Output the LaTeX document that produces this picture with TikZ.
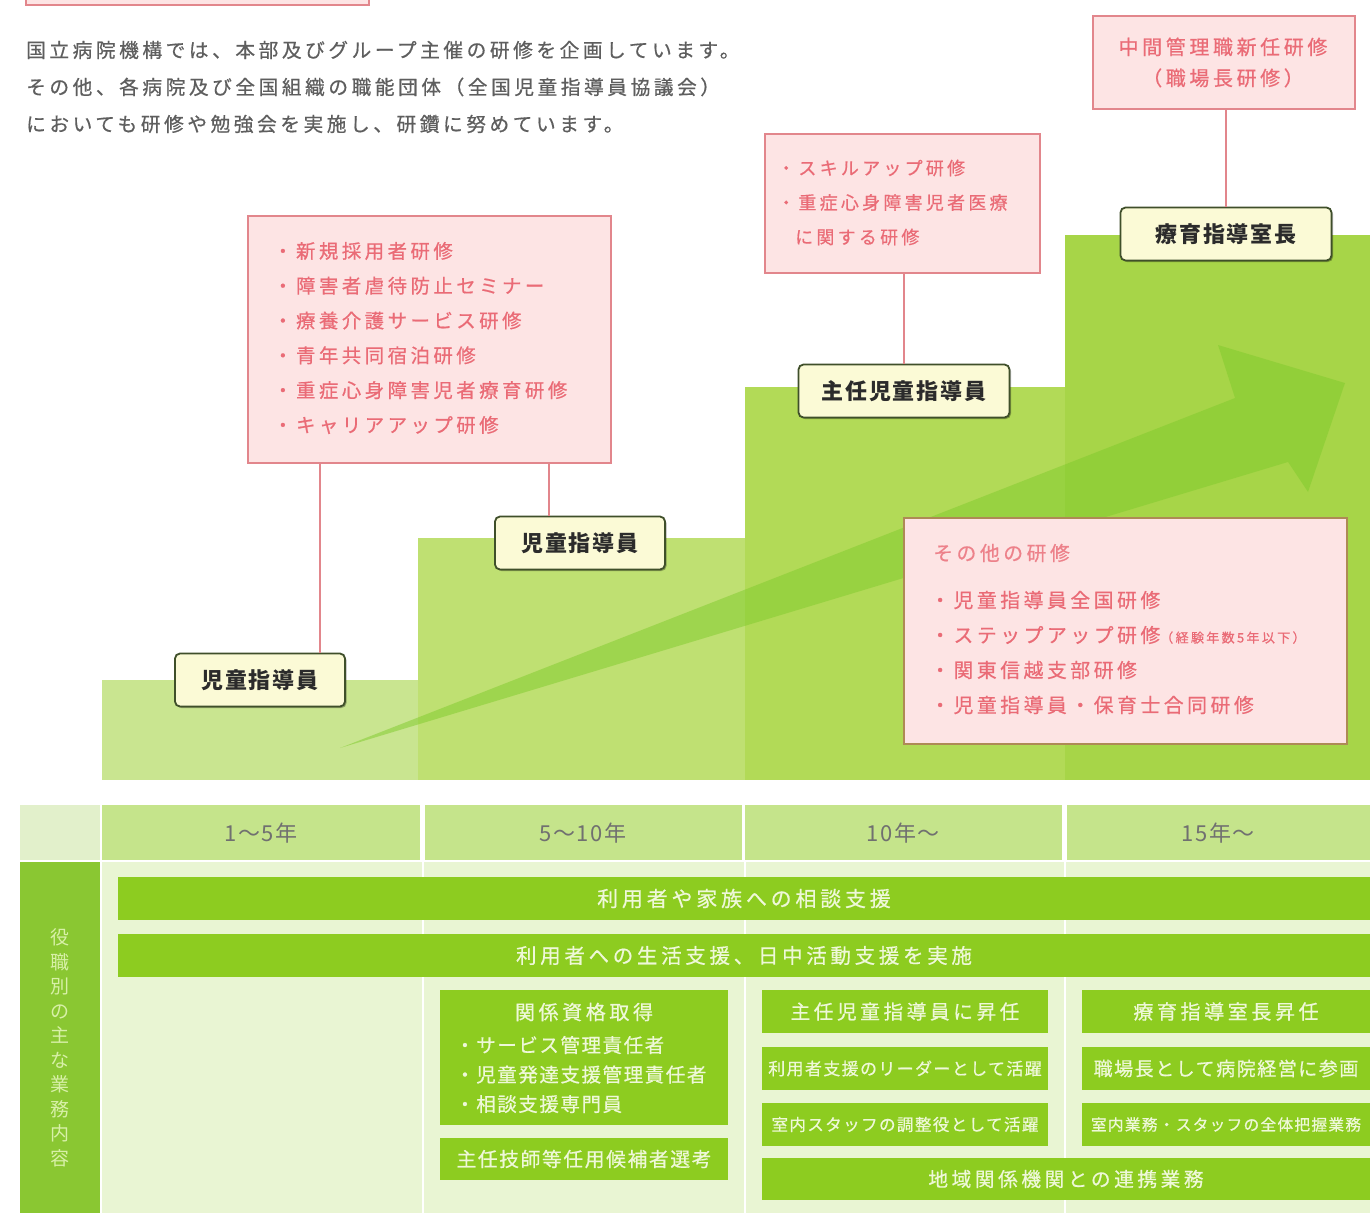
\documentclass[tikz,border=0pt]{standalone}
\usepackage{fontspec}
\setmainfont{Noto Sans CJK JP}[LetterSpace=8]
\newfontfamily\jpw{Noto Sans CJK JP}[LetterSpace=18,FakeBold=0.6]
\newfontfamily\jpb{Noto Sans CJK JP}[LetterSpace=8,FakeBold=0.6]
\usetikzlibrary{shadows}
\definecolor{pinkfill}{HTML}{FDE4E4}
\definecolor{pinkline}{HTML}{E2868C}
\definecolor{pinktext}{HTML}{EA6B76}
\definecolor{boxdline}{HTML}{AE8A55}
\definecolor{introtext}{HTML}{5E5E5E}
\definecolor{rolefill}{HTML}{FBFAD6}
\definecolor{roleline}{HTML}{3F4F2A}
\definecolor{roletext}{HTML}{2B2B2B}
\definecolor{stepA}{HTML}{C9E590}
\definecolor{stepB}{HTML}{BFE072}
\definecolor{stepC}{HTML}{B2DA57}
\definecolor{stepD}{HTML}{A7D548}
\definecolor{arrowgreen}{HTML}{7FCB2C}
\definecolor{headcell}{HTML}{C5E48B}
\definecolor{headleft}{HTML}{E2F0CB}
\definecolor{bodybg}{HTML}{E9F5D3}
\definecolor{leftcol}{HTML}{8AC732}
\definecolor{bargreen}{HTML}{8DCC20}
\definecolor{bartextc}{HTML}{EEF8D8}
\definecolor{vtext}{HTML}{D8F0A8}
\definecolor{yeartext}{HTML}{707070}
\newcommand\myfs[2]{\fontsize{#1}{#2}\selectfont}
\begin{document}
\begin{tikzpicture}[x=1pt,y=-1pt,
  pinkbox/.style={draw=pinkline, fill=pinkfill, line width=1.6pt, inner sep=0pt},
  pinktxt/.style={text=pinktext, inner sep=0pt},
  role/.style={draw=roleline, fill=rolefill, rounded corners=5pt, line width=1.8pt,
    minimum height=53, inner sep=0pt, text=roletext, font=\bfseries\myfs{22}{22},
    drop shadow={shadow xshift=1.5pt, shadow yshift=-1.5pt, opacity=0.3, fill=black}},
  conn/.style={draw=pinkline, line width=1.6pt},
  stepbox/.style={inner sep=0pt, outer sep=0pt},
  bar/.style={fill=bargreen, inner sep=0pt, outer sep=0pt, text=bartextc},
  cell/.style={inner sep=0pt, outer sep=0pt, text=yeartext, font=\myfs{22}{22}}]
\useasboundingbox (0,0) rectangle (1370,1213);
\fill[white] (0,0) rectangle (1370,1213);

% partial box at top left
\begin{scope}
  \clip (0,0) rectangle (1370,1213);
  \node[pinkbox, anchor=south west, minimum width=343, minimum height=40] (topbox) at (25,6) {};
\end{scope}

% intro text
\node[anchor=west, align=left, inner sep=0pt, text=introtext, font=\jpw\myfs{19.7}{37}] (intro) at (26,87)
  {国立病院機構では、本部及びグループ主催の研修を企画しています。\\
   その他、各病院及び全国組織の職能団体（全国児童指導員協議会）\\
   においても研修や勉強会を実施し、研鑽に努めています。};

% staircase
\fill[stepA] (102,680) rectangle (418,780);
\fill[stepB] (418,538) rectangle (745,780);
\fill[stepC] (745,387) rectangle (1065,780);
\fill[stepD] (1065,235) rectangle (1370,780);

% big arrow
\fill[arrowgreen, opacity=0.5] (340,748) -- (1235,398) -- (1218,345) -- (1345,383)
  -- (1308,492) -- (1288,462) -- cycle;

% training box A
\node[pinkbox, anchor=north west, minimum width=363, minimum height=247] (boxA) at (247,215) {};
\node[pinktxt, anchor=west, align=left, font=\jpw\myfs{19.4}{34.8}] (boxAt) at (273,338)
  {・新規採用者研修\\・障害者虐待防止セミナー\\・療養介護サービス研修\\・青年共同宿泊研修\\・重症心身障害児者療育研修\\・キャリアアップ研修};

% training box B
\node[pinkbox, anchor=north west, minimum width=275, minimum height=139] (boxB) at (764,133) {};
\node[pinktxt, anchor=west, align=left, font=\jpw\myfs{18}{34.5}] (boxBt) at (777,202.5)
  {・スキルアップ研修\\・重症心身障害児者医療\\\phantom{・}に関する研修};

% training box C
\node[pinkbox, anchor=north west, minimum width=262, minimum height=93] (boxC) at (1092,15) {};
\node[pinktxt, align=center, font=\jpw\myfs{20}{31}] (boxCt) at (1223,62.5)
  {中間管理職新任研修\\（職場長研修）};

% role nodes
\node[role, minimum width=170] (n1) at (260,680) {児童指導員};
\node[role, minimum width=170] (n2) at (580,543) {児童指導員};
\node[role, minimum width=211] (n3) at (904,391) {主任児童指導員};
\node[role, minimum width=211] (n4) at (1226,234) {療育指導室長};

% connectors
\coordinate (cA1) at (320,0);
\coordinate (cA2) at (549,0);
\draw[conn] (boxA.south -| cA1) -- (n1.north -| cA1);
\draw[conn] (boxA.south -| cA2) -- (n2.north -| cA2);
\draw[conn] (boxB.south -| n3.north) -- (n3.north);
\draw[conn] (boxC.south -| n4.north) -- (n4.north);

% other trainings box D
\node[pinkbox, draw=boxdline, anchor=north west, minimum width=443, minimum height=226] (boxD) at (903,517) {};
\node[pinktxt, text=pinktext!85!white, anchor=west, font=\jpw\myfs{19.8}{19.8}] (boxDh) at (933,553) {その他の研修};
\node[pinktxt, anchor=west, align=left, font=\jpw\myfs{19.8}{35}] (boxDt) at (930,652.5)
  {・児童指導員全国研修\\・ステップアップ研修{\myfs{13}{13}（経験年数5年以下）}\\・関東信越支部研修\\・児童指導員・保育士合同研修};

% ===== table =====
\node[stepbox, fill=headleft, anchor=north west, minimum width=80, minimum height=55] (hl) at (20,805) {};
\node[cell, fill=headcell, anchor=north west, minimum width=318, minimum height=55] (h1) at (102,805) {};
\node[cell, fill=headcell, anchor=north west, minimum width=317, minimum height=55] (h2) at (425,805) {};
\node[cell, fill=headcell, anchor=north west, minimum width=317, minimum height=55] (h3) at (745,805) {};
\node[cell, fill=headcell, anchor=north west, minimum width=303, minimum height=55] (h4) at (1067,805) {};
\node[cell] (y1) at (261,833) {1～5年};
\node[cell] (y2) at (583,833) {5～10年};
\node[cell] (y3) at (903,833) {10年～};
\node[cell] (y4) at (1218,833) {15年～};

\fill[bodybg] (102,862) rectangle (1370,1213);
\draw[white, line width=2pt] (423,862) -- (423,1213);
\draw[white, line width=2pt] (745,862) -- (745,1213);
\draw[white, line width=2pt] (1065,862) -- (1065,1213);
\node[stepbox, fill=leftcol, anchor=north west, minimum width=80, minimum height=351] (lc) at (20,862) {};
\node[align=center, inner sep=0pt, text=vtext, font=\myfs{19}{24.5}] (vt) at (60,1048)
  {役\\職\\別\\の\\主\\な\\業\\務\\内\\容};

\node[bar, anchor=north west, minimum width=1252, minimum height=43, font=\jpw\myfs{21}{21}] (r1) at (118,877) {利用者や家族への相談支援};
\node[bar, anchor=north west, minimum width=1252, minimum height=43, font=\jpw\myfs{20.5}{20.5}] (r2) at (118,934) {利用者への生活支援、日中活動支援を実施};

\node[bar, anchor=north west, minimum width=288, minimum height=135] (q1) at (440,990) {};
\node[text=bartextc, inner sep=0pt, font=\jpw\myfs{20}{20}] (q1t) at (584,1012) {関係資格取得};
\node[text=bartextc, inner sep=0pt, anchor=west, align=left, font=\jpb\myfs{19.5}{29.5}] (q1l) at (455,1074.5)
  {・サービス管理責任者\\・児童発達支援管理責任者\\・相談支援専門員};
\node[bar, anchor=north west, minimum width=288, minimum height=42, font=\jpb\myfs{19.8}{19.8}] (q2) at (440,1138) {主任技師等任用候補者選考};

\node[bar, anchor=north west, minimum width=286, minimum height=43, font=\jpw\myfs{19.7}{19.7}] (s1) at (762,990) {主任児童指導員に昇任};
\node[bar, anchor=north west, minimum width=286, minimum height=43, font=\jpb\myfs{17}{17}] (s2) at (762,1047) {利用者支援のリーダーとして活躍};
\node[bar, anchor=north west, minimum width=286, minimum height=43, font=\jpb\myfs{16.6}{16.6}] (s3) at (762,1103) {室内スタッフの調整役として活躍};
\node[bar, anchor=north west, minimum width=608, minimum height=42, font=\jpw\myfs{19.7}{19.7}] (s4) at (762,1158) {地域関係機関との連携業務};

\node[bar, anchor=north west, minimum width=288, minimum height=43, font=\jpw\myfs{20}{20}] (t1) at (1082,990) {療育指導室長昇任};
\node[bar, anchor=north west, minimum width=288, minimum height=43, font=\jpb\myfs{19}{19}] (t2) at (1082,1047) {職場長として病院経営に参画};
\node[bar, anchor=north west, minimum width=288, minimum height=43, font=\jpb\myfs{15.7}{15.7}] (t3) at (1082,1103) {室内業務・スタッフの全体把握業務};
\end{tikzpicture}
\end{document}
